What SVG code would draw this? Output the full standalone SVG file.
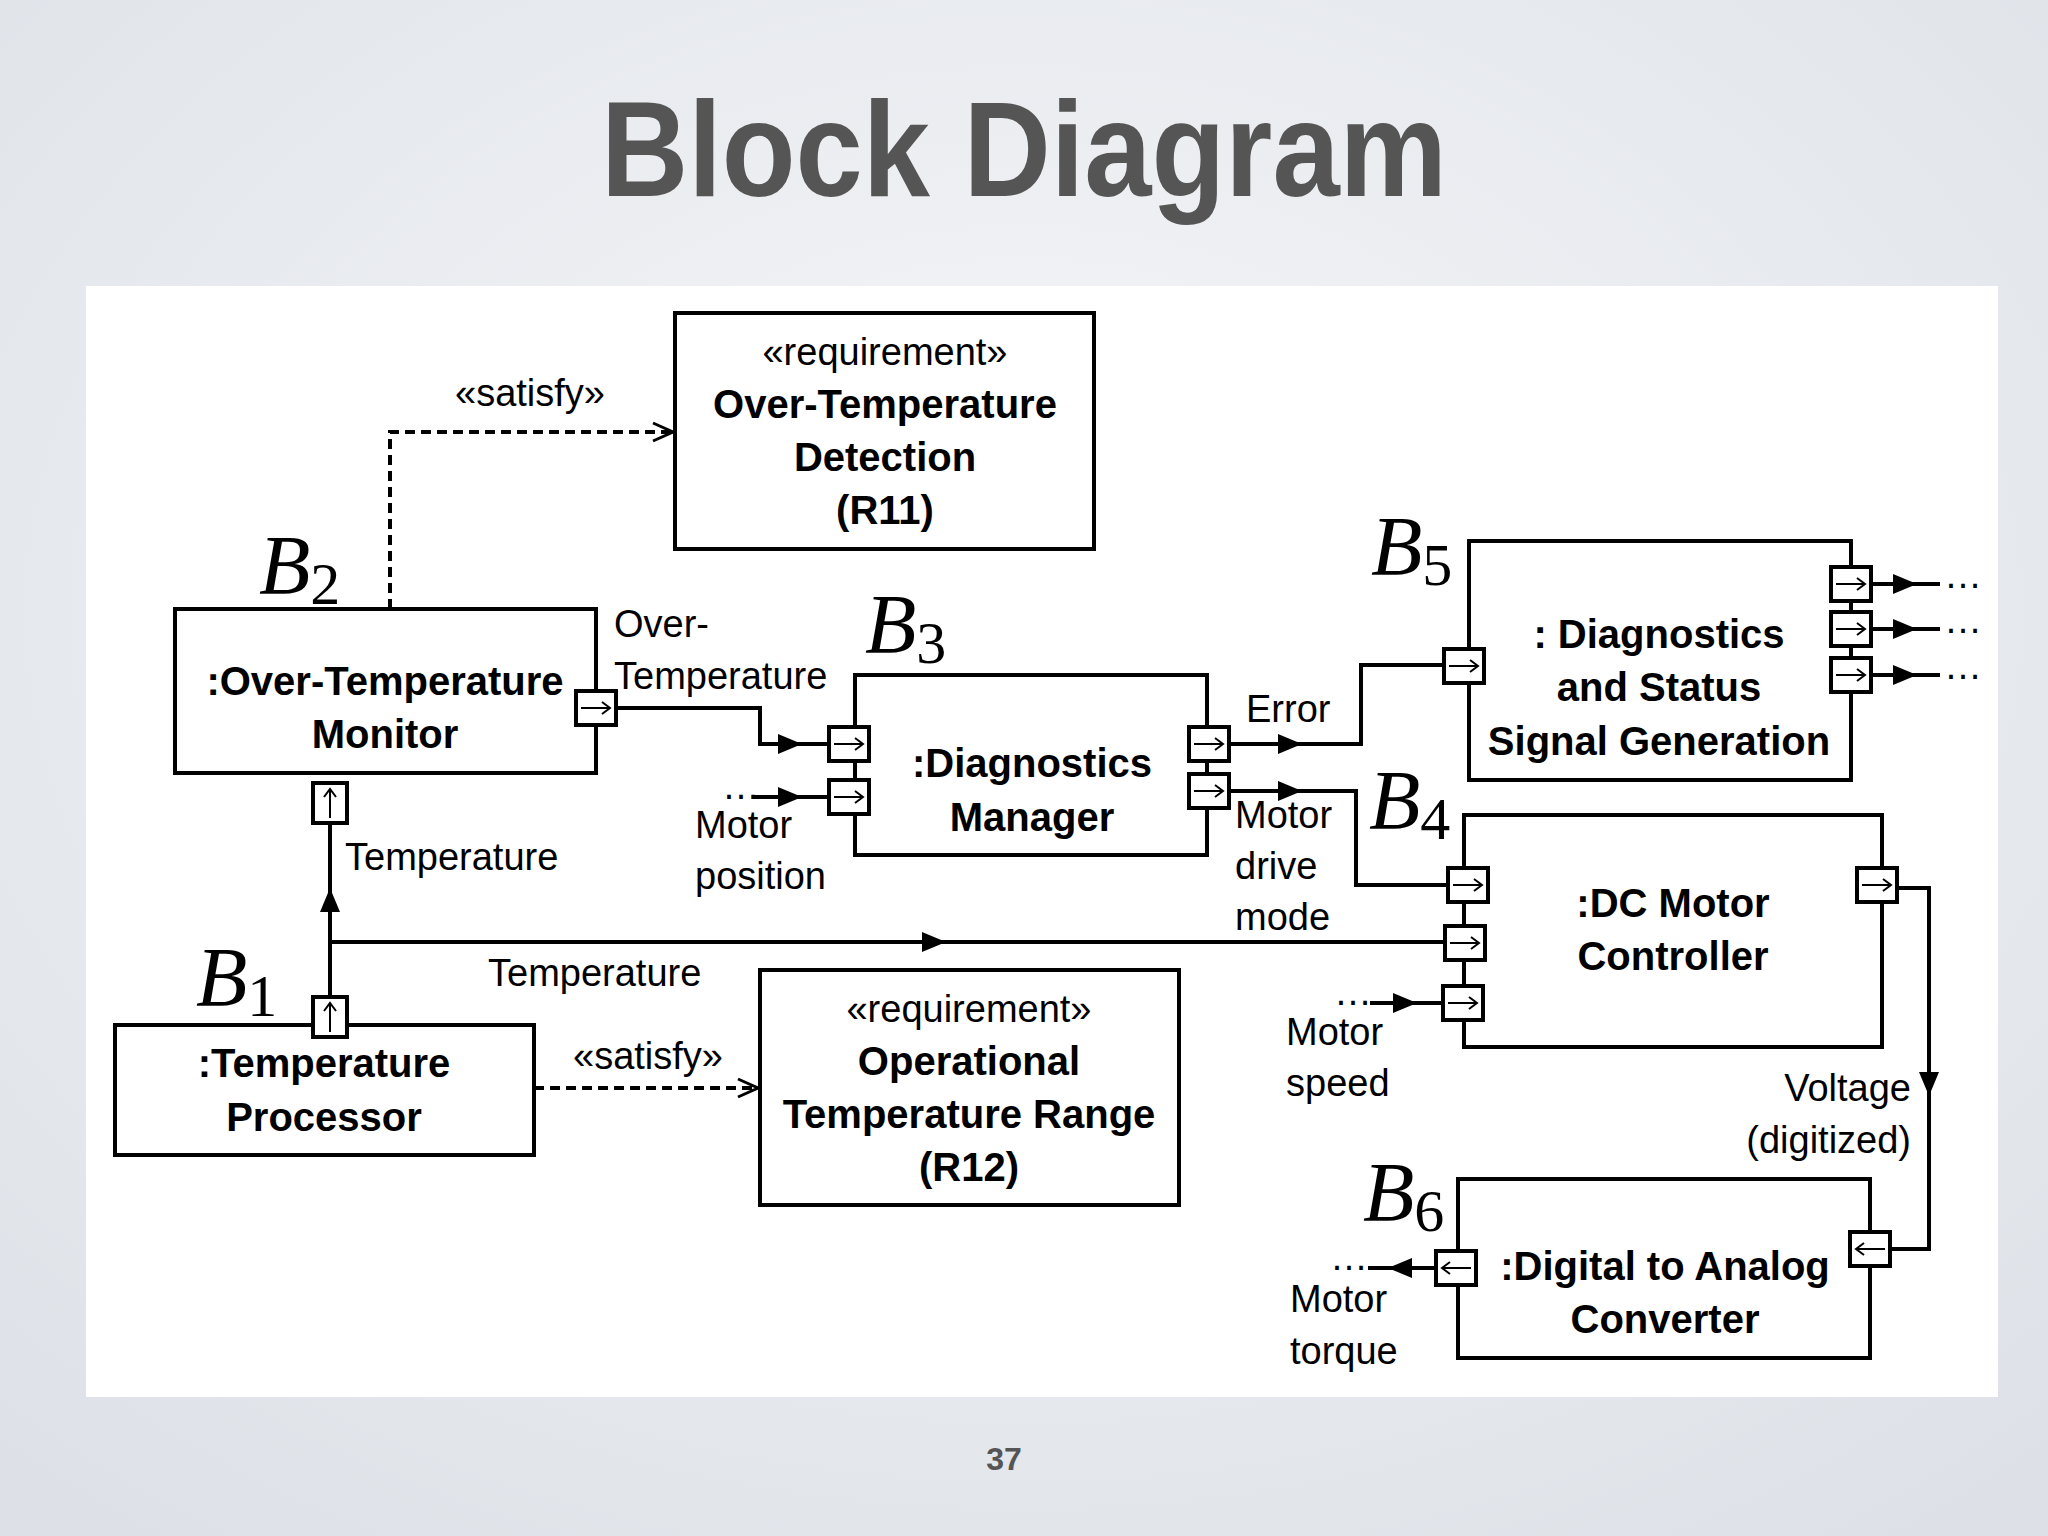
<svg xmlns="http://www.w3.org/2000/svg" xmlns:xlink="http://www.w3.org/1999/xlink" width="2048" height="1536" viewBox="0 0 2048 1536">
<defs>
<radialGradient id="bg" cx="50%" cy="40%" r="75%"><stop offset="0" stop-color="#f6f7f9"/><stop offset="1" stop-color="#dde1e7"/></radialGradient>
<marker id="fb" markerWidth="24" markerHeight="24" refX="22" refY="12" orient="auto" markerUnits="userSpaceOnUse" viewBox="0 0 24 24"><path d="M0 2L24 12L0 22z" fill="#000"/></marker>
<marker id="oa" markerWidth="24" markerHeight="24" refX="22" refY="12" orient="auto" markerUnits="userSpaceOnUse" viewBox="0 0 24 24"><path d="M2 3L22 12L2 21" fill="none" stroke="#000" stroke-width="3"/></marker>
<g id="pr"><rect x="-20" y="-17" width="40" height="34" fill="#fff" stroke="#000" stroke-width="4"/><path d="M-15 0H14M6 -6L14 0L6 6" fill="none" stroke="#000" stroke-width="2"/></g>
<g id="pl"><rect x="-20" y="-17" width="40" height="34" fill="#fff" stroke="#000" stroke-width="4"/><path d="M15 0H-14M-6 -6L-14 0L-6 6" fill="none" stroke="#000" stroke-width="2"/></g>
<g id="pu"><rect x="-17" y="-20" width="34" height="40" fill="#fff" stroke="#000" stroke-width="4"/><path d="M0 15V-14M-6 -6L0 -14L6 -6" fill="none" stroke="#000" stroke-width="2"/></g>
</defs>
<style>
.box{fill:#fff;stroke:#000;stroke-width:4}
.t{font-family:"Liberation Sans",Arial,sans-serif;font-size:38px;fill:#000}
.b{font-weight:bold;text-anchor:middle;font-size:40px}
.m{text-anchor:middle}
.w{fill:none;stroke:#000;stroke-width:4}
.d{fill:none;stroke:#000;stroke-width:4;stroke-dasharray:10 6}
.bl{font-family:"Liberation Serif","Times New Roman",serif;font-style:italic;font-size:84px}
.sub{font-style:normal;font-size:60px}
</style>
<rect width="2048" height="1536" fill="url(#bg)"/>
<rect x="86" y="286" width="1912" height="1111" fill="#fff"/>
<text x="1024" y="196" text-anchor="middle" font-family="'Liberation Sans',Arial,sans-serif" font-weight="bold" font-size="136" fill="#555" textLength="846" lengthAdjust="spacingAndGlyphs">Block Diagram</text>
<text x="1004" y="1470" text-anchor="middle" font-family="'Liberation Sans',Arial,sans-serif" font-weight="bold" font-size="32" fill="#555">37</text>

<g id="connectors">
<path class="d" d="M390 609V432H673" marker-end="url(#oa)"/>
<path class="d" d="M534 1088H758" marker-end="url(#oa)"/>
<path class="w" d="M614 708H760V744H800" marker-end="url(#fb)"/><path class="w" d="M800 744H829"/>
<path class="w" d="M752 797H800" marker-end="url(#fb)"/><path class="w" d="M800 797H829"/>
<path class="w" d="M330 997V890" marker-end="url(#fb)"/><path class="w" d="M330 890V823"/>
<path class="w" d="M330 942H944" marker-end="url(#fb)"/><path class="w" d="M944 942H1445"/>
<path class="w" d="M1229 744H1300" marker-end="url(#fb)"/><path class="w" d="M1300 744H1361V665H1444"/>
<path class="w" d="M1229 791H1300" marker-end="url(#fb)"/><path class="w" d="M1300 791H1356V885H1448"/>
<path class="w" d="M1370 1003H1415" marker-end="url(#fb)"/><path class="w" d="M1415 1003H1443"/>
<path class="w" d="M1871 584H1915" marker-end="url(#fb)"/><path class="w" d="M1915 584H1940"/>
<path class="w" d="M1871 629H1915" marker-end="url(#fb)"/><path class="w" d="M1915 629H1940"/>
<path class="w" d="M1871 675H1915" marker-end="url(#fb)"/><path class="w" d="M1915 675H1940"/>
<path class="w" d="M1897 888H1929V1094" marker-end="url(#fb)"/><path class="w" d="M1929 1094V1249H1890"/>
<path class="w" d="M1436 1268H1390" marker-end="url(#fb)"/><path class="w" d="M1390 1268H1368"/>
<text class="t" x="1944" y="588">…</text><text class="t" x="1944" y="633">…</text><text class="t" x="1944" y="679">…</text>
<text class="t" x="722" y="799">…</text><text class="t" x="1334" y="1005">…</text><text class="t" x="1330" y="1270">…</text>
<text class="t m" x="530" y="406">«satisfy»</text>
<text class="t m" x="648" y="1069">«satisfy»</text>
<text class="t" x="614" y="637">Over-</text><text class="t" x="614" y="689">Temperature</text>
<text class="t" x="695" y="838">Motor</text><text class="t" x="695" y="889">position</text>
<text class="t" x="345" y="870">Temperature</text>
<text class="t" x="488" y="986">Temperature</text>
<text class="t" x="1246" y="722">Error</text>
<text class="t" x="1235" y="828">Motor</text><text class="t" x="1235" y="879">drive</text><text class="t" x="1235" y="930">mode</text>
<text class="t" x="1286" y="1045">Motor</text><text class="t" x="1286" y="1096">speed</text>
<text class="t" x="1911" y="1101" text-anchor="end">Voltage</text><text class="t" x="1911" y="1153" text-anchor="end">(digitized)</text>
<text class="t" x="1290" y="1312">Motor</text><text class="t" x="1290" y="1364">torque</text>
</g>

<g id="r11"><rect class="box" x="675" y="313" width="419" height="236"/>
<text class="t m" x="885" y="365">«requirement»</text><text class="t b" x="885" y="418">Over-Temperature</text><text class="t b" x="885" y="471">Detection</text><text class="t b" x="885" y="524">(R11)</text></g>

<g id="r12"><rect class="box" x="760" y="970" width="419" height="235"/>
<text class="t m" x="969" y="1022">«requirement»</text><text class="t b" x="969" y="1075">Operational</text><text class="t b" x="969" y="1128">Temperature Range</text><text class="t b" x="969" y="1181">(R12)</text></g>

<g id="b2"><rect class="box" x="175" y="609" width="421" height="164"/>
<text class="t b" x="385" y="695">:Over-Temperature</text><text class="t b" x="385" y="748">Monitor</text>
<use xlink:href="#pr" x="596" y="708"/><use xlink:href="#pu" x="330" y="803"/>
<text class="bl" x="259" y="594">B<tspan class="sub" dy="10">2</tspan></text></g>

<g id="b3"><rect class="box" x="855" y="675" width="352" height="180"/>
<text class="t b" x="1032" y="777">:Diagnostics</text><text class="t b" x="1032" y="831">Manager</text>
<use xlink:href="#pr" x="849" y="744"/><use xlink:href="#pr" x="849" y="797"/>
<use xlink:href="#pr" x="1209" y="744"/><use xlink:href="#pr" x="1209" y="791"/>
<text class="bl" x="865" y="653">B<tspan class="sub" dy="10">3</tspan></text></g>

<g id="b5"><rect class="box" x="1469" y="541" width="382" height="239"/>
<text class="t b" x="1659" y="648">: Diagnostics</text><text class="t b" x="1659" y="701">and Status</text><text class="t b" x="1659" y="755">Signal Generation</text>
<use xlink:href="#pr" x="1464" y="666"/>
<use xlink:href="#pr" x="1851" y="584"/><use xlink:href="#pr" x="1851" y="629"/><use xlink:href="#pr" x="1851" y="675"/>
<text class="bl" x="1371" y="575">B<tspan class="sub" dy="10">5</tspan></text></g>

<g id="b4"><rect class="box" x="1464" y="815" width="418" height="232"/>
<text class="t b" x="1673" y="917">:DC Motor</text><text class="t b" x="1673" y="970">Controller</text>
<use xlink:href="#pr" x="1468" y="885"/><use xlink:href="#pr" x="1465" y="943"/><use xlink:href="#pr" x="1463" y="1003"/>
<use xlink:href="#pr" x="1877" y="885"/>
<text class="bl" x="1369" y="829">B<tspan class="sub" dy="10">4</tspan></text></g>

<g id="b1"><rect class="box" x="115" y="1025" width="419" height="130"/>
<text class="t b" x="324" y="1077">:Temperature</text><text class="t b" x="324" y="1131">Processor</text>
<use xlink:href="#pu" x="330" y="1017"/>
<text class="bl" x="196" y="1006">B<tspan class="sub" dy="10">1</tspan></text></g>

<g id="b6"><rect class="box" x="1458" y="1179" width="412" height="179"/>
<text class="t b" x="1665" y="1280">:Digital to Analog</text><text class="t b" x="1665" y="1333">Converter</text>
<use xlink:href="#pl" x="1456" y="1268"/><use xlink:href="#pl" x="1870" y="1249"/>
<text class="bl" x="1363" y="1221">B<tspan class="sub" dy="10">6</tspan></text></g>
</svg>
